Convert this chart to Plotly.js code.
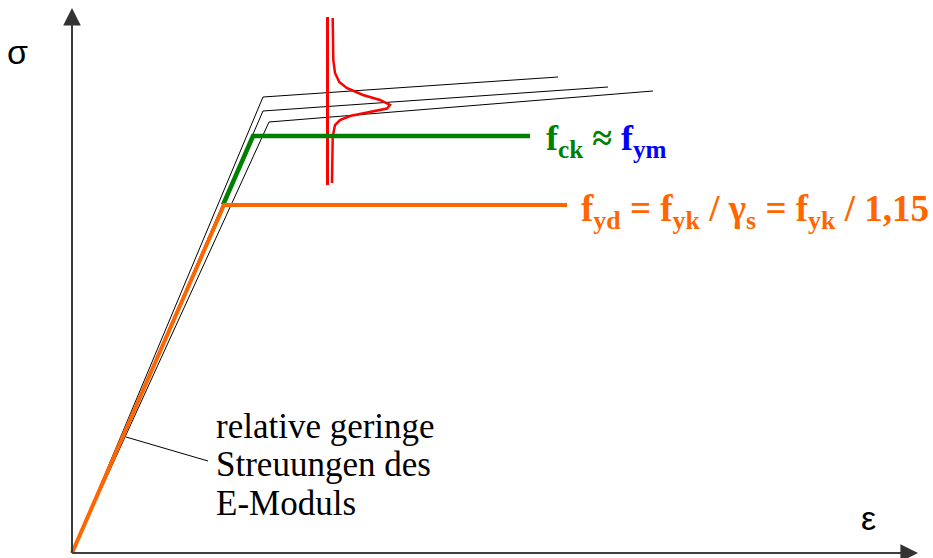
<!DOCTYPE html>
<html>
<head>
<meta charset="utf-8">
<script src="https://cdn.plot.ly/plotly-3.0.1.min.js"></script>
<style>html,body{margin:0;padding:0;background:#fff;}#chart{width:933px;height:558px;}</style>
</head>
<body>
<div id="chart"></div>
<script>
// strain (x) and stress (y) in arbitrary chart units
const curveA_x = [0, 1.91, 4.86];
const curveA_y = [0, 456, 476];
const curveB_x = [0, 1.91, 5.36];
const curveB_y = [0, 442, 466];
const curveC_x = [0, 1.97, 5.81];
const curveC_y = [0, 431, 462];

const fck_x = [1.51, 1.81, 4.58];
const fck_y = [348, 417, 417];

const fyd_x = [0, 1.52, 4.95];
const fyd_y = [0, 348, 348];

const distAxis_x = [2.555, 2.555];
const distAxis_y = [536, 368];

const dist_x = [2.607, 2.613, 2.63, 2.673, 2.747, 2.91, 3.08, 3.18, 3.15, 2.98, 2.78, 2.68, 2.63, 2.607, 2.603, 2.60];
const dist_y = [535, 493, 480, 471, 465, 458, 453, 448, 444.5, 441, 437, 433, 428, 416, 403, 370];

const leader_x = [0.54, 1.36];
const leader_y = [116, 92];

const labelLines = ["relative geringe", "Streuungen des", "E-Moduls"];

function line(x, y, color, width) {
  return {x: x, y: y, type: 'scatter', mode: 'lines', hoverinfo: 'skip',
          line: {color: color, width: width, shape: 'linear'}};
}

const data = [
  line(curveA_x, curveA_y, '#000000', 1),
  line(curveB_x, curveB_y, '#000000', 1),
  line(curveC_x, curveC_y, '#000000', 1),
  line(distAxis_x, distAxis_y, '#FF0000', 3),
  line(dist_x, dist_y, '#FF0000', 2.5),
  line(fck_x, fck_y, '#008000', 4.5),
  line(fyd_x, fyd_y, '#FF6600', 4),
  line(leader_x, leader_y, '#000000', 1)
];

const serif = 'Liberation Serif, Times New Roman, serif';
const annotations = [
  // axes arrows
  {x: 0, y: 545, ax: 0, ay: 0, axref: 'x', ayref: 'y', xref: 'x', yref: 'y',
   showarrow: true, arrowhead: 2, arrowsize: 2.2, arrowwidth: 1.6, arrowcolor: '#333333', text: ''},
  {x: 8.46, y: 0, ax: 0, ay: 0, axref: 'x', ayref: 'y', xref: 'x', yref: 'y',
   showarrow: true, arrowhead: 2, arrowsize: 2.2, arrowwidth: 1.6, arrowcolor: '#333333', text: ''},
  {x: -0.55, y: 501, xref: 'x', yref: 'y', showarrow: false, text: 'σ',
   font: {family: 'Liberation Sans, Arial, sans-serif', size: 34, color: '#000'}},
  {x: 7.96, y: 35, xref: 'x', yref: 'y', showarrow: false, text: 'ε',
   font: {family: 'Liberation Sans, Arial, sans-serif', size: 34, color: '#000'}},
  {x: 4.72, y: 413, xref: 'x', yref: 'y', showarrow: false, xanchor: 'left', yanchor: 'middle',
   text: "<b><span style='color:#008000'>f<sub>ck</sub> ≈ </span><span style='color:#0000FF'>f<sub>ym</sub></span></b>",
   font: {family: serif, size: 36, color: '#008000'}},
  {x: 5.07, y: 342, xref: 'x', yref: 'y', showarrow: false, xanchor: 'left', yanchor: 'middle',
   text: "<b>f<sub>yd</sub> = f<sub>yk</sub> / γ<sub>s</sub> = f<sub>yk</sub> / 1,15</b>",
   font: {family: serif, size: 37, color: '#FF6600'}}
];
const lineY = [127, 89, 50];
labelLines.forEach(function (t, i) {
  annotations.push({x: 1.42, y: lineY[i], xref: 'x', yref: 'y', showarrow: false,
    xanchor: 'left', yanchor: 'middle', text: t,
    font: {family: serif, size: 35, color: '#000'}});
});

const shapes = [
  {type: 'line', xref: 'x', yref: 'y', x0: 0, y0: 0, x1: 0, y1: 535, line: {color: '#333333', width: 1.6}},
  {type: 'line', xref: 'x', yref: 'y', x0: 0, y0: 0, x1: 8.35, y1: 0, line: {color: '#333333', width: 1.6}}
];

const layout = {
  width: 933, height: 558,
  margin: {l: 0, r: 0, t: 0, b: 0, pad: 0},
  paper_bgcolor: '#ffffff', plot_bgcolor: '#ffffff',
  showlegend: false,
  xaxis: {range: [-0.72, 8.61], showgrid: false, zeroline: false,
          showticklabels: false, ticks: '', showline: false, fixedrange: true},
  yaxis: {range: [-5, 553], showgrid: false, zeroline: false,
          showticklabels: false, ticks: '', showline: false, fixedrange: true},
  shapes: shapes,
  annotations: annotations
};

Plotly.newPlot('chart', data, layout, {staticPlot: true, displayModeBar: false});
</script>
</body>
</html>
